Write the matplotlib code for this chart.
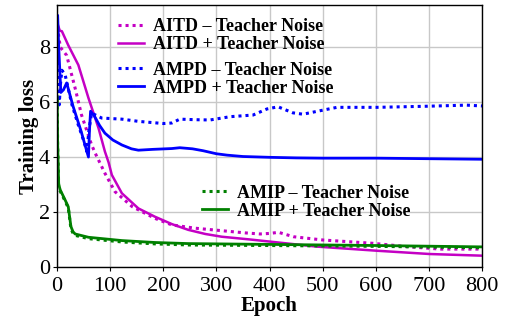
import matplotlib
matplotlib.use("Agg")
import matplotlib.pyplot as plt

plt.rcParams['font.family'] = ['Liberation Serif', 'DejaVu Serif']
plt.rcParams['mathtext.fontset'] = 'stix'

# training loss curves (epoch, loss)
aitd_minus_epochs = [0, 3, 6, 18, 34, 46, 65, 72, 90, 109, 141, 184, 216, 260, 310, 354, 382, 400,
                     417, 445, 501, 595, 658, 721, 800]
aitd_minus_loss = [9.0, 8.4, 8.0, 7.7, 6.5, 5.53, 4.44, 4.13, 3.41, 2.74, 2.2, 1.77, 1.53, 1.41, 1.32,
                   1.24, 1.2, 1.22, 1.26, 1.1, 0.98, 0.86, 0.74, 0.65, 0.65]

aitd_plus_epochs = [0, 5, 9, 21, 40, 59, 78, 90, 97, 103, 122, 153, 184, 216, 247, 279, 310, 363,
                    489, 602, 702, 800]
aitd_plus_loss = [8.9, 8.6, 8.58, 8.07, 7.35, 6.15, 5.05, 4.2, 3.8, 3.35, 2.68, 2.13, 1.83, 1.56,
                  1.35, 1.2, 1.1, 1.0, 0.74, 0.59, 0.47, 0.41]

ampd_minus_epochs = [0, 2, 4, 6, 9, 15, 22, 28, 40, 50, 56, 60, 65, 84, 122, 153, 200, 216, 231,
                     260, 288, 326, 369, 395, 416, 444, 463, 501, 527, 602, 696, 771, 800]
ampd_minus_loss = [9.0, 7.5, 5.9, 6.6, 7.16, 7.0, 6.4, 5.9, 5.16, 4.6, 4.2, 5.0, 5.6, 5.42, 5.38,
                   5.3, 5.22, 5.24, 5.38, 5.36, 5.35, 5.47, 5.53, 5.75, 5.83, 5.61, 5.56, 5.71,
                   5.81, 5.81, 5.85, 5.89, 5.86]

ampd_plus_epochs = [0, 1, 3, 7, 12, 18, 30, 45, 59, 61, 63, 70, 80, 90, 105, 122, 140, 153, 180,
                    216, 231, 255, 275, 300, 320, 350, 401, 450, 500, 600, 700, 800]
ampd_plus_loss = [8.9, 9.16, 8.0, 6.35, 6.45, 6.7, 5.85, 4.95, 4.0, 5.0, 5.67, 5.5, 5.15, 4.87,
                  4.62, 4.44, 4.3, 4.25, 4.28, 4.31, 4.34, 4.3, 4.23, 4.12, 4.07, 4.02, 3.99,
                  3.97, 3.96, 3.96, 3.94, 3.92]

amip_epochs = [0, 1, 3, 6, 15, 21, 26, 30, 34, 59, 122, 184, 247, 400, 600, 800]
amip_minus_loss = [6.1, 4.4, 2.9, 2.75, 2.4, 2.15, 1.4, 1.22, 1.15, 1.03, 0.91, 0.84, 0.8, 0.78,
                   0.75, 0.7]
amip_plus_loss = [6.2, 4.5, 3.0, 2.8, 2.44, 2.19, 1.47, 1.28, 1.2, 1.08, 0.96, 0.89, 0.85, 0.82,
                  0.78, 0.73]

fig = plt.figure(figsize=(5.1, 3.22), dpi=100)
ax = fig.add_axes([0.112, 0.171, 0.833, 0.813])

mag, blue, green = '#c400c4', '#0000ff', '#008000'
dot = (0, (1, 1.3))

l1, = ax.plot(aitd_minus_epochs, aitd_minus_loss, color=mag, lw=2.2, ls=dot,
              label='AITD – Teacher Noise')
l2, = ax.plot(aitd_plus_epochs, aitd_plus_loss, color=mag, lw=1.8, label='AITD + Teacher Noise')
l3, = ax.plot(ampd_minus_epochs, ampd_minus_loss, color=blue, lw=2.2, ls=dot,
              label='AMPD – Teacher Noise')
l4, = ax.plot(ampd_plus_epochs, ampd_plus_loss, color=blue, lw=2.0, label='AMPD + Teacher Noise')
l5, = ax.plot(amip_epochs, amip_minus_loss, color=green, lw=2.2, ls=dot,
              label='AMIP – Teacher Noise')
l6, = ax.plot(amip_epochs, amip_plus_loss, color=green, lw=2.0, label='AMIP + Teacher Noise')

ax.set_xlim(0, 800)
ax.set_ylim(0, 9.53)
ax.set_xticks(range(0, 801, 100))
ax.set_yticks([0, 2, 4, 6, 8])
ax.tick_params(labelsize=16, length=3, width=0.8)
ax.tick_params(axis='x', pad=4)
ax.tick_params(axis='y', pad=2)
ax.grid(True, color='#c8c8c8', lw=1)
ax.set_axisbelow(True)
for s in ax.spines.values():
    s.set_linewidth(1.0)

ax.set_xlabel('Epoch', fontsize=15, fontweight='bold', labelpad=0)
ax.set_ylabel('Training loss', fontsize=15, fontweight='bold', labelpad=0)

leg_kw = dict(frameon=False, prop={'weight': 'bold', 'size': 13}, loc='upper left',
              borderpad=0, borderaxespad=0, labelspacing=0.05, handlelength=1.45,
              handletextpad=0.5)
leg1 = ax.legend(handles=[l1, l2], bbox_to_anchor=(0.143, 0.95), **leg_kw)
ax.add_artist(leg1)
leg2 = ax.legend(handles=[l3, l4], bbox_to_anchor=(0.143, 0.784), **leg_kw)
ax.add_artist(leg2)
ax.legend(handles=[l5, l6], bbox_to_anchor=(0.341, 0.314), **leg_kw)

fig.savefig('out.png', dpi=100)
